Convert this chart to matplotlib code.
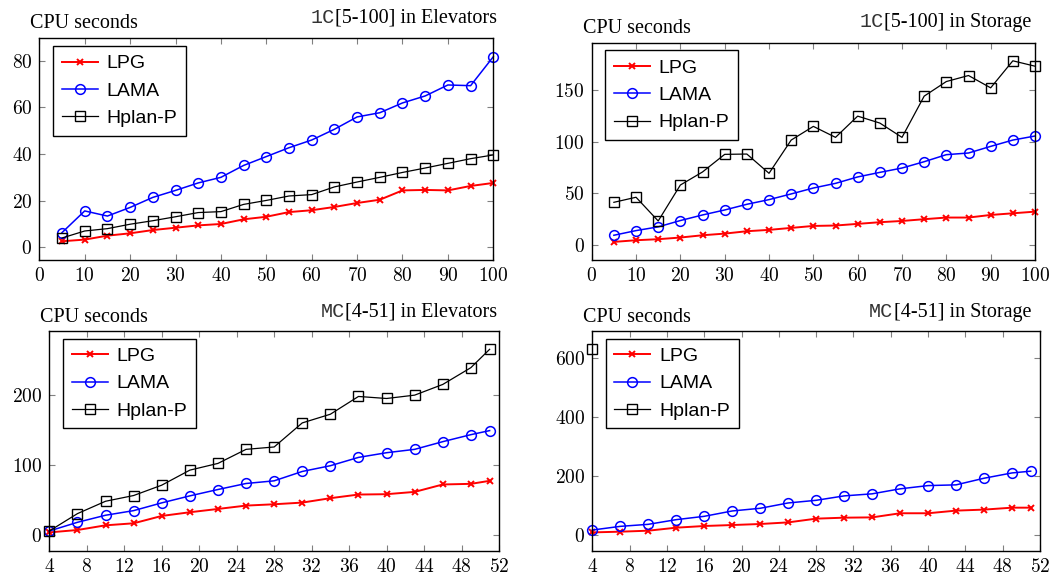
import matplotlib
matplotlib.use("Agg")
import matplotlib.pyplot as plt

plt.rcParams['font.family'] = 'cmr10'
plt.rcParams['mathtext.fontset'] = 'cm'
plt.rcParams['axes.formatter.use_mathtext'] = True

# 1C[5-100]
x_1c = list(range(5, 101, 5))
elev_1c_lpg = [2.6, 3.3, 5.0, 6.0, 7.4, 8.4, 9.4, 10.0, 12.0, 13.1, 15.1, 15.9, 17.3, 19.0, 20.4, 24.4, 24.6, 24.4, 26.3, 27.6]
elev_1c_lama = [6.3, 15.6, 13.4, 17.1, 21.4, 24.4, 27.6, 30.0, 35.1, 38.9, 42.7, 46.0, 50.6, 55.9, 57.7, 61.9, 64.9, 69.6, 69.3, 81.7]
elev_1c_hplan = [4.0, 7.0, 8.0, 9.9, 11.4, 13.1, 14.9, 15.3, 18.4, 20.1, 22.0, 22.6, 25.9, 28.0, 30.0, 32.1, 34.0, 36.0, 38.0, 39.6]

stor_1c_lpg = [3.2, 4.8, 5.8, 7.4, 9.6, 11.2, 13.5, 14.8, 16.7, 18.6, 19.0, 20.6, 22.2, 23.4, 25.1, 26.7, 26.7, 29.2, 30.8, 32.4]
stor_1c_lama = [9.6, 14.1, 17.7, 23.8, 29.2, 34.0, 39.5, 44.0, 49.5, 55.2, 59.7, 65.9, 70.3, 74.5, 80.6, 87.4, 89.0, 95.4, 101.5, 105.4]
stor_1c_hplan = [41.4, 46.3, 23.4, 58.1, 70.7, 87.7, 88.0, 69.4, 101.5, 114.7, 104.1, 124.6, 117.9, 104.1, 143.9, 158.0, 163.8, 151.9, 178.0, 172.8]

# MC[4-51]
x_mc = [4, 7, 10, 13, 16, 19, 22, 25, 28, 31, 34, 37, 40, 43, 46, 49, 51]
elev_mc_lpg = [3.3, 6.7, 13.4, 16.3, 26.8, 32.1, 36.8, 41.6, 43.5, 45.9, 52.2, 57.4, 57.9, 61.2, 71.8, 72.7, 77.0]
elev_mc_lama = [5.3, 17.7, 27.8, 34.4, 45.5, 55.5, 64.6, 73.2, 77.0, 90.4, 98.6, 110.5, 117.2, 122.0, 133.0, 143.0, 148.8]
elev_mc_hplan = [5.3, 30.1, 47.8, 56.0, 70.8, 92.3, 101.9, 122.0, 125.4, 159.8, 172.2, 197.6, 194.7, 199.5, 214.8, 238.8, 265.0]

stor_mc_lpg = [9.0, 11.4, 14.8, 25.0, 30.7, 34.0, 37.5, 43.0, 55.7, 59.0, 60.0, 74.0, 74.0, 83.0, 86.4, 93.0, 93.0]
stor_mc_lama = [17.0, 29.5, 36.4, 52.3, 63.6, 81.8, 90.9, 109.0, 118.0, 133.0, 140.0, 157.0, 168.0, 170.5, 193.0, 211.0, 217.0]
stor_mc_hplan = [631.0]  # only the first instance solved

W, H = 1063, 577
fig = plt.figure(figsize=(W / 100, H / 100), dpi=100)
renderer = fig.canvas.get_renderer()


def add_ax(l, t, r, b):
    return fig.add_axes([l / W, 1 - b / H, (r - l) / W, (b - t) / H])


def draw(ax, x, lpg, lama, hplan, xlim, xticks, yticks):
    ax.plot(x, lpg, color='red', lw=1.4, marker='x', ms=5, mew=1.4, label='LPG', clip_on=False)
    ax.plot(x, lama, color='blue', lw=1.1, marker='o', ms=7, mfc='none', mew=1.1, label='LAMA', clip_on=False)
    ax.plot(x[:len(hplan)], hplan, color='black', lw=0.9, marker='s', ms=7, mfc='none', mew=1.0,
            label='Hplan-P', clip_on=False)
    lo = min(min(lpg), min(lama), min(hplan))
    hi = max(max(lpg), max(lama), max(hplan))
    pad = (hi - lo) * 0.1
    ax.set_ylim(lo - pad, hi + pad)
    ax.set_xlim(*xlim)
    ax.set_xticks(xticks)
    ax.set_yticks(yticks)
    ax.tick_params(direction='in', top=True, right=True, length=4, width=0.8,
                   color='#808080', labelsize=14, pad=5)
    for s in ax.spines.values():
        s.set_linewidth(1.0)
    leg = ax.legend(loc='upper left', bbox_to_anchor=(0.03, 0.965), borderaxespad=0,
                    prop={'family': 'Liberation Sans', 'size': 14}, fancybox=False,
                    framealpha=1, edgecolor='black', handlelength=1.85,
                    labelspacing=0.5, borderpad=0.45, handletextpad=0.45)
    leg.get_frame().set_linewidth(1.0)
    leg.set_zorder(5)


def titles(lx, ly, rx, ry, tt, rest):
    fig.text(lx / W, 1 - ly / H, 'CPU seconds', fontsize=14.5, family='Liberation Serif',
             ha='left', va='baseline')
    t = fig.text(rx / W, 1 - ry / H, rest, fontsize=14.5, family='Liberation Serif',
                 ha='right', va='baseline')
    bb = t.get_window_extent(renderer)
    fig.text(bb.x0 / W, 1 - ry / H, tt, fontsize=14.5, family='Liberation Mono',
             color='#333333', ha='right', va='baseline')


ax1 = add_ax(39.3, 38.3, 493.3, 259.7)
draw(ax1, x_1c, elev_1c_lpg, elev_1c_lama, elev_1c_hplan, (0, 100), range(0, 101, 10), [0, 20, 40, 60, 80])
titles(30, 28, 497, 23, '1C', '[5-100] in Elevators')

ax2 = add_ax(591.7, 42.7, 1035, 260)
draw(ax2, x_1c, stor_1c_lpg, stor_1c_lama, stor_1c_hplan, (0, 100), range(0, 101, 10), [0, 50, 100, 150])
titles(583, 33, 1031, 27, '1C', '[5-100] in Storage')

ax3 = add_ax(49.3, 331, 499, 550.7)
draw(ax3, x_mc, elev_mc_lpg, elev_mc_lama, elev_mc_hplan, (4, 52), range(4, 53, 4), [0, 100, 200])
titles(40, 322, 497, 317, 'MC', '[4-51] in Elevators')

ax4 = add_ax(592.3, 331, 1040, 550.7)
draw(ax4, x_mc, stor_mc_lpg, stor_mc_lama, stor_mc_hplan, (4, 52), range(4, 53, 4), [0, 200, 400, 600])
titles(583, 322, 1031, 317, 'MC', '[4-51] in Storage')

fig.savefig('out.png', dpi=100)
